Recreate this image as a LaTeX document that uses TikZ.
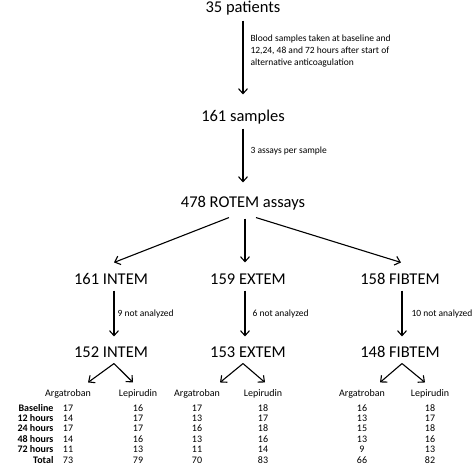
\documentclass[tikz,border=0pt]{standalone}
\usepackage{fontspec}
\setmainfont{Carlito}
\usetikzlibrary{positioning, arrows.meta}

\begin{document}
\begin{tikzpicture}[x=1pt, y=-1pt, line width=1.1pt,
  main/.style = {anchor=base, inner sep=0pt, text height=12pt, text depth=4pt, font=\fontsize{16.5}{18}\selectfont},
  note/.style = {anchor=base west, inner sep=0pt, align=left, font=\fontsize{9.5}{12}\selectfont},
  head/.style = {anchor=base, inner sep=0pt, text height=7pt, text depth=2pt, font=\fontsize{10}{12}\selectfont},
  num/.style = {head},
  rowlab/.style = {head, anchor=base east, font=\fontsize{10}{12}\selectfont\bfseries},
  arr/.style = {-{Straight Barb[length=5pt, width=9pt]}}]
\useasboundingbox (0,0) rectangle (473,469);

\node[main] (p35) at (243,12) {35 patients};
\node[main] (s161) at (243,121) {161 samples};
\node[main] (r478) at (243,207) {478 ROTEM assays};
\node[main] (i161) at (111,284) {161 INTEM};
\node[main] (e159) at (248,284) {159 EXTEM};
\node[main] (f158) at (400,284) {158 FIBTEM};
\node[main] (i152) at (111,357) {152 INTEM};
\node[main] (e153) at (248,357) {153 EXTEM};
\node[main] (f148) at (400,357) {148 FIBTEM};

\node[note, anchor=north west] (nblood) at (250,34) {Blood samples taken at baseline and\\12,24, 48 and 72 hours after start of\\alternative anticoagulation};
\node[note] (nassay) at (250,153) {3 assays per sample};
\node[note] (ni) at (117,316) {9 not analyzed};
\node[note] (ne) at (252,316) {6 not analyzed};
\node[note] (nf) at (411,316) {10 not analyzed};

\draw[arr] ([yshift=-4pt]p35.south) -- ([yshift=14pt]s161.north);
\draw[arr] ([yshift=-3pt]s161.south) -- ([yshift=12pt]r478.north);
\draw[arr] ([shift={(-14,6)}]r478.south) -- ([shift={(3,-9)}]i161.north);
\draw[arr] ([shift={(2,7)}]r478.south) -- ([shift={(-3,-9)}]e159.north);
\draw[arr] ([shift={(13,6)}]r478.south) -- ([shift={(1,-9)}]f158.north);
\draw[arr] ([shift={(3,2)}]i161.south) -- ([shift={(3,-8)}]i152.north);
\draw[arr] ([shift={(-3,2)}]e159.south) -- ([shift={(-3,-8)}]e153.north);
\draw[arr] ([shift={(2,2)}]f158.south) -- ([shift={(2,-8)}]f148.north);

\node[head] (ia) at (68,396) {Argatroban};
\node[head] (il) at (138,396) {Lepirudin};
\node[head] (ea) at (197,396) {Argatroban};
\node[head] (el) at (263,396) {Lepirudin};
\node[head] (fa) at (362,396) {Argatroban};
\node[head] (fl) at (430,396) {Lepirudin};

\draw[arr] ([shift={(3,2)}]i152.south) -- ([shift={(20,-6)}]ia.north);
\draw[arr] ([shift={(3,2)}]i152.south) -- ([shift={(-5,-6)}]il.north);
\draw[arr] ([shift={(-5,2)}]e153.south) -- ([shift={(23,-6)}]ea.north);
\draw[arr] ([shift={(-5,2)}]e153.south) -- ([shift={(2,-6)}]el.north);
\draw[arr] ([shift={(2,2)}]f148.south) -- ([shift={(18,-6)}]fa.north);
\draw[arr] ([shift={(2,2)}]f148.south) -- ([shift={(-5,-6)}]fl.north);

\foreach \lab/\vi/\wi/\ve/\we/\vf/\wf [count=\r] in {Baseline/17/16/17/18/16/18, 12 hours/14/17/13/17/13/17, 24 hours/17/17/16/18/15/18, 48 hours/14/16/13/16/13/16, 72 hours/11/13/11/14/9/13, Total/73/79/70/83/66/82} {
  \node[rowlab] (lab\r) at (54,400.6+10.4*\r) {\lab};
  \node[num] (ia\r) at (68,400.6+10.4*\r) {\vi};
  \node[num] (il\r) at (138,400.6+10.4*\r) {\wi};
  \node[num] (ea\r) at (197,400.6+10.4*\r) {\ve};
  \node[num] (el\r) at (263,400.6+10.4*\r) {\we};
  \node[num] (fa\r) at (362,400.6+10.4*\r) {\vf};
  \node[num] (fl\r) at (430,400.6+10.4*\r) {\wf};
}
\end{tikzpicture}
\end{document}
